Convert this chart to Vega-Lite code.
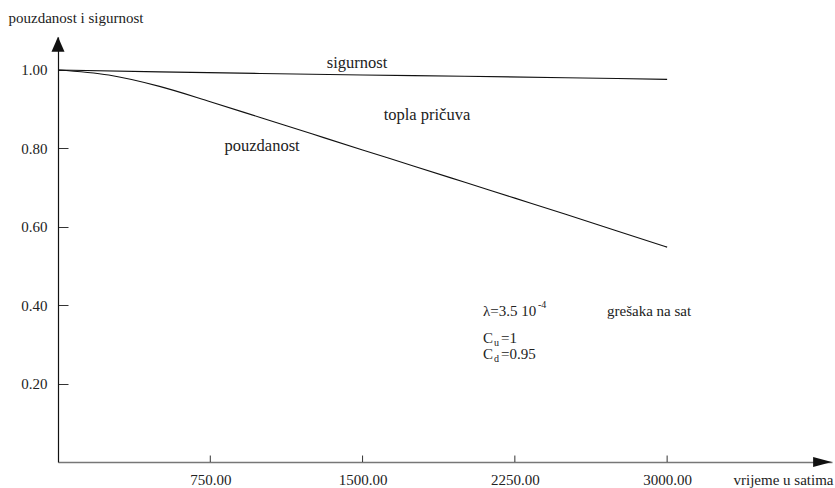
{
  "$schema": "https://vega.github.io/schema/vega-lite/v6.json",
  "width": 774,
  "height": 425,
  "autosize": {"type": "none"},
  "padding": {"left": 58, "top": 37, "right": 3, "bottom": 26},
  "config": {"view": {"stroke": null}, "font": "Liberation Serif"},
  "datasets": {
    "curves": [
      {"series": "sigurnost", "t": 0, "r": 1.0},
      {"series": "sigurnost", "t": 500, "r": 0.995},
      {"series": "sigurnost", "t": 1000, "r": 0.991},
      {"series": "sigurnost", "t": 1500, "r": 0.987},
      {"series": "sigurnost", "t": 2000, "r": 0.984},
      {"series": "sigurnost", "t": 2500, "r": 0.98},
      {"series": "sigurnost", "t": 3000, "r": 0.976},
      {"series": "pouzdanost", "t": 0, "r": 1.0},
      {"series": "pouzdanost", "t": 250, "r": 0.987},
      {"series": "pouzdanost", "t": 500, "r": 0.958},
      {"series": "pouzdanost", "t": 750, "r": 0.919},
      {"series": "pouzdanost", "t": 1000, "r": 0.878},
      {"series": "pouzdanost", "t": 1250, "r": 0.837},
      {"series": "pouzdanost", "t": 1500, "r": 0.796},
      {"series": "pouzdanost", "t": 1750, "r": 0.755},
      {"series": "pouzdanost", "t": 2000, "r": 0.714},
      {"series": "pouzdanost", "t": 2250, "r": 0.673},
      {"series": "pouzdanost", "t": 2500, "r": 0.632},
      {"series": "pouzdanost", "t": 2750, "r": 0.590},
      {"series": "pouzdanost", "t": 3000, "r": 0.548}
    ],
    "xticks": [
      {"t": 750, "r": 0},
      {"t": 1500, "r": 0},
      {"t": 2250, "r": 0},
      {"t": 3000, "r": 0}
    ],
    "arrows": [
      {"axis": "y", "t": 0, "r": 1.0658},
      {"axis": "x", "t": 3765, "r": 0}
    ],
    "labels": [
      {"t": 1473, "r": 1.018, "text": "sigurnost"},
      {"t": 1817, "r": 0.885, "text": "topla pričuva"},
      {"t": 1005, "r": 0.806, "text": "pouzdanost"}
    ],
    "params": [
      {"t": 2093, "r": 0.385, "text": "λ=3.5 10"},
      {"t": 2704, "r": 0.385, "text": "grešaka na sat"},
      {"t": 2093, "r": 0.316, "text": "C"},
      {"t": 2182, "r": 0.316, "text": "=1"},
      {"t": 2093, "r": 0.276, "text": "C"},
      {"t": 2182, "r": 0.276, "text": "=0.95"}
    ],
    "subs": [
      {"t": 2364, "r": 0.401, "text": "-4"},
      {"t": 2147, "r": 0.304, "text": "u"},
      {"t": 2147, "r": 0.263, "text": "d"}
    ]
  },
  "encoding": {
    "x": {
      "field": "t",
      "type": "quantitative",
      "scale": {"domain": [0, 3812], "nice": false, "zero": false},
      "axis": {
        "values": [750, 1500, 2250, 3000],
        "format": ".2f",
        "grid": false,
        "domainColor": "#777",
        "domainWidth": 1.5,
        "ticks": false,
        "labelFont": "Liberation Serif",
        "labelFontSize": 15,
        "labelColor": "#222",
        "labelPadding": 10,
        "labelFlush": false,
        "labelBaseline": "top",
        "title": "vrijeme u satima",
        "titleFont": "Liberation Serif",
        "titleFontSize": 15,
        "titleFontWeight": "normal",
        "titleColor": "#222",
        "titleX": 775,
        "titleY": 17,
        "titleAlign": "right",
        "titleBaseline": "middle",
        "titleAnchor": null
      }
    },
    "y": {
      "field": "r",
      "type": "quantitative",
      "scale": {"domain": [0, 1.084], "nice": false, "zero": false},
      "axis": {
        "values": [0.2, 0.4, 0.6, 0.8, 1.0],
        "format": ".2f",
        "grid": false,
        "domainColor": "#111",
        "domainWidth": 1.2,
        "tickColor": "#333",
        "tickSize": -10,
        "tickWidth": 1,
        "labelFont": "Liberation Serif",
        "labelFontSize": 15,
        "labelColor": "#222",
        "labelPadding": 21,
        "labelFlush": false,
        "title": "pouzdanost i sigurnost",
        "titleFont": "Liberation Serif",
        "titleFontSize": 15,
        "titleFontWeight": "normal",
        "titleColor": "#222",
        "titleAngle": 0,
        "titleX": -50,
        "titleY": -20,
        "titleAlign": "left",
        "titleBaseline": "middle",
        "titleAnchor": null
      }
    }
  },
  "layer": [
    {
      "data": {"name": "curves"},
      "mark": {"type": "line", "color": "#111", "strokeWidth": 1.1, "interpolate": "monotone"},
      "encoding": {"detail": {"field": "series"}}
    },
    {
      "data": {"name": "xticks"},
      "mark": {"type": "rule", "color": "#333", "strokeWidth": 1},
      "encoding": {"y2": {"datum": 0.0165}}
    },
    {
      "data": {"name": "arrows"},
      "transform": [{"filter": "datum.axis === 'y'"}],
      "mark": {"type": "point", "shape": "M0,-1L0.867,1L-0.867,1Z", "size": 225, "filled": true, "color": "#111", "opacity": 1}
    },
    {
      "data": {"name": "arrows"},
      "transform": [{"filter": "datum.axis === 'x'"}],
      "mark": {"type": "point", "shape": "M1,0L-1,0.535L-1,-0.535Z", "size": 350, "filled": true, "color": "#111", "opacity": 1}
    },
    {
      "data": {"name": "labels"},
      "mark": {"type": "text", "font": "Liberation Serif", "fontSize": 16.5, "color": "#222", "align": "center", "baseline": "middle"},
      "encoding": {"text": {"field": "text"}}
    },
    {
      "data": {"name": "params"},
      "mark": {"type": "text", "font": "Liberation Serif", "fontSize": 15, "color": "#222", "align": "left", "baseline": "middle"},
      "encoding": {"text": {"field": "text"}}
    },
    {
      "data": {"name": "subs"},
      "mark": {"type": "text", "font": "Liberation Serif", "fontSize": 10, "color": "#222", "align": "left", "baseline": "middle"},
      "encoding": {"text": {"field": "text"}}
    }
  ]
}
